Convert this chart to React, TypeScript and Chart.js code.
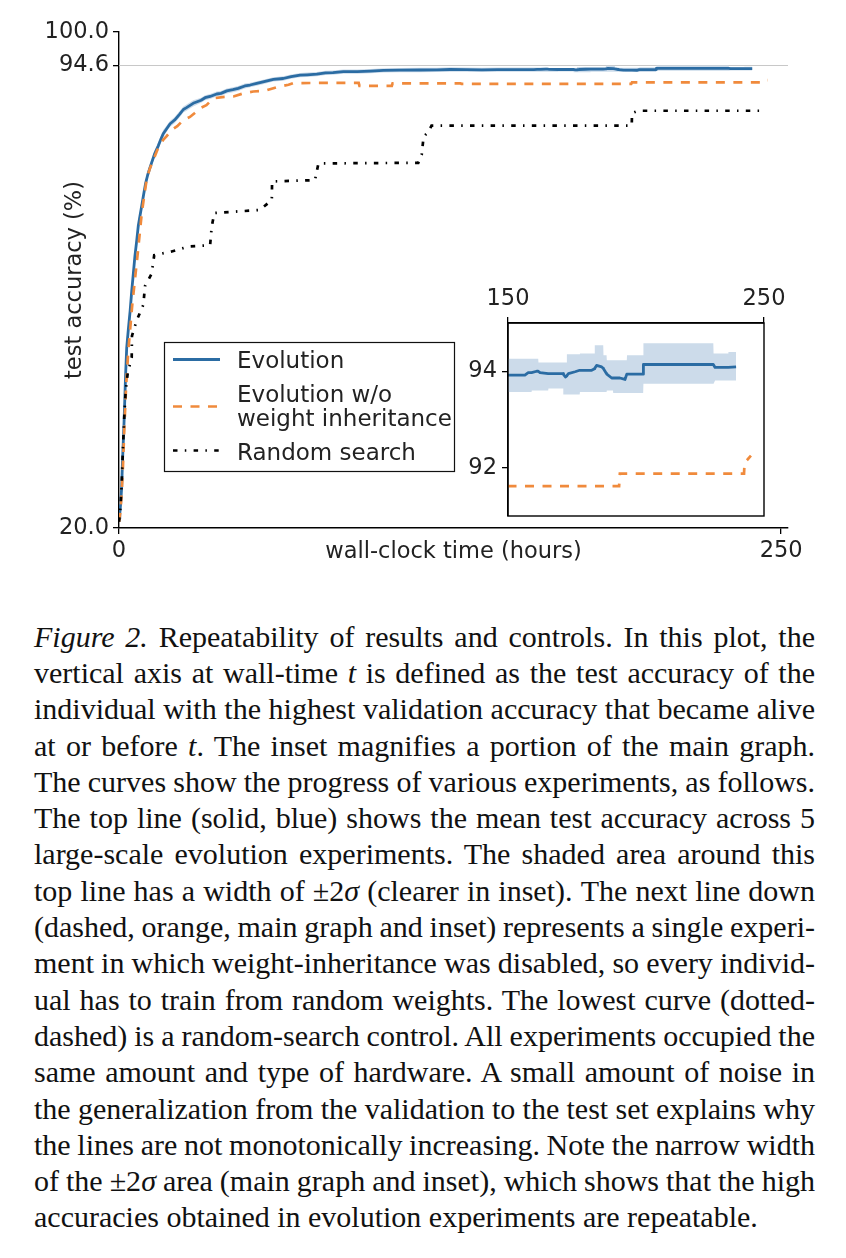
import React, { useEffect, useRef } from 'react';
import { Chart, registerables } from 'chart.js';

Chart.register(...registerables);

// ---------------- data ----------------
const evoHours = [
  0, 0.3, 0.6, 1.0, 1.3, 1.9, 2.5, 2.9, 3.5, 4.2, 4.8, 5.4, 6.0, 6.7, 7.3, 7.9, 8.6, 9.3, 10.0, 10.8,
  11.6, 12.3, 13.5, 14.8, 15.8, 16.7, 18.0, 19.3, 21.0, 23.0, 24.3, 25.5, 28.0, 31.0, 32.5, 34.4, 36.9,
  38.5, 40.7, 43.0, 45.0, 47.5, 49.5, 52.0, 54.0, 58.3, 62.0, 65.0, 68.4, 71.0, 74.7, 78.0, 80.8, 84.7,
  90.0, 95.0, 99.8, 106.0, 113.7, 120.0, 125.0, 131.0, 137.0, 143.0,
  150.0, 156.6, 157.9, 159.2, 159.3, 161.2, 161.8, 161.9, 162.5, 165.7, 165.8, 171.6, 171.7, 172.5,
  172.9, 173.0, 173.6, 176.2, 178.0, 178.1, 182.7, 183.8, 183.9, 184.6, 186.6, 187.2, 187.3, 188.5,
  188.6, 190.5, 191.0, 191.1, 193.7, 195.7, 196.4, 196.5, 201.6, 202.8, 202.9, 230.2, 230.3, 230.9,
  236.0, 236.1, 239.1,
];
const evoMean = [
  21.5, 22.3, 23.8, 26.5, 30.5, 37.0, 44.8, 49.0, 51.9, 55.0, 58.2, 61.0, 63.8, 66.4, 68.8, 70.3, 72.0, 73.8, 75.5, 76.9,
  78.0, 78.9, 80.4, 81.6, 82.7, 83.6, 84.4, 85.2, 85.8, 86.8, 87.5, 87.8, 88.5, 89.0, 89.4, 89.6, 90.0,
  90.1, 90.5, 90.7, 90.9, 91.3, 91.45, 91.7, 91.9, 92.35, 92.5, 92.8, 93.05, 93.1, 93.2, 93.4, 93.45, 93.6,
  93.62, 93.7, 93.82, 93.85, 93.87, 93.9, 93.95, 93.93, 93.9, 93.92,
  93.92, 93.92, 93.97, 93.97, 93.97, 94.0, 94.0, 94.0, 93.97, 93.95, 93.95, 93.95, 93.93, 93.88,
  93.9, 93.91, 93.95, 93.99, 94.02, 94.02, 94.02, 94.05, 94.06, 94.12, 94.09, 94.06, 94.05, 93.95,
  93.94, 93.86, 93.86, 93.86, 93.86, 93.83, 93.94, 93.94, 93.94, 93.94, 94.14, 94.14, 94.14, 94.08,
  94.08, 94.08, 94.09,
];
const evoLow = [
  21.0, 21.6, 23.0, 25.5, 29.3, 35.6, 43.3, 47.6, 50.6, 53.8, 57.0, 59.9, 62.8, 65.5, 68.0, 69.5, 71.3, 73.1, 74.8, 76.3,
  77.4, 78.3, 79.8, 81.0, 82.1, 83.0, 83.9, 84.7, 85.3, 86.3, 87.0, 87.3, 88.0, 88.6, 89.0, 89.2, 89.6,
  89.7, 90.1, 90.3, 90.5, 90.9, 91.1, 91.35, 91.55, 92.0, 92.15, 92.45, 92.7, 92.75, 92.85, 93.05, 93.1, 93.25,
  93.27, 93.35, 93.47, 93.5, 93.5, 93.55, 93.6, 93.58, 93.55, 93.57,
  93.57, 93.57, 93.57, 93.57, 93.6, 93.6, 93.6, 93.6, 93.6, 93.6, 93.64, 93.64, 93.52, 93.52,
  93.52, 93.52, 93.52, 93.52, 93.52, 93.57, 93.57, 93.57, 93.57, 93.57, 93.57, 93.57, 93.57, 93.57,
  93.6, 93.6, 93.6, 93.55, 93.55, 93.55, 93.55, 93.55, 93.55, 93.55, 93.74, 93.74, 93.74, 93.81,
  93.81, 93.81, 93.81,
];
const evoHigh = [
  22.0, 23.0, 24.6, 27.5, 31.7, 38.4, 46.3, 50.4, 53.2, 56.2, 59.4, 62.1, 64.8, 67.3, 69.6, 71.1, 72.7, 74.5, 76.2, 77.5,
  78.6, 79.5, 81.0, 82.2, 83.3, 84.2, 84.9, 85.7, 86.3, 87.3, 88.0, 88.3, 89.0, 89.4, 89.8, 90.0, 90.4,
  90.5, 90.9, 91.1, 91.3, 91.7, 91.8, 92.05, 92.25, 92.7, 92.85, 93.15, 93.4, 93.45, 93.55, 93.75, 93.8, 93.95,
  93.97, 94.05, 94.17, 94.2, 94.22, 94.25, 94.3, 94.28, 94.25, 94.26,
  94.26, 94.26, 94.26, 94.26, 94.26, 94.26, 94.26, 94.18, 94.18, 94.18, 94.18, 94.18, 94.18, 94.18,
  94.18, 94.35, 94.35, 94.35, 94.35, 94.37, 94.37, 94.37, 94.54, 94.54, 94.54, 94.54, 94.33, 94.33,
  94.23, 94.23, 94.23, 94.23, 94.23, 94.23, 94.23, 94.33, 94.33, 94.33, 94.58, 94.58, 94.37, 94.37,
  94.37, 94.4, 94.4,
];

const noInheritHours = [
  0, 0.5, 1.0, 1.5, 2.0, 2.7, 3.5, 4.3, 5.0, 6.0, 7.0, 8.6, 9.5, 10.4, 11.5, 13.0, 14.5, 16.7, 18.0, 19.9,
  22.0, 24.3, 26.8, 28.5, 30.6, 33.0, 35.6, 39.0, 43.2, 47.0, 50.7, 55.0, 59.6, 64.0, 65.7, 81.0, 90.5,
  90.8, 103.0, 103.3, 129.0, 129.3, 193.4, 193.7, 242.2, 242.4, 244.9,
];
const noInheritAcc = [
  21.0, 22.5, 25.5, 30.0, 36.0, 43.0, 48.5, 52.5, 56.0, 60.0, 64.0, 70.8, 73.5, 76.1, 77.8, 79.4, 81.0, 82.6, 83.2, 84.2,
  84.8, 85.8, 86.3, 86.9, 87.7, 88.2, 89.3, 89.5, 89.6, 90.1, 90.4, 90.5, 91.1, 91.5, 91.75, 91.8, 91.8,
  91.3, 91.3, 91.72, 91.72, 91.62, 91.62, 91.88, 91.88, 92.1, 92.25,
];

const randomHours = [
  0, 0.5, 1.0, 1.5, 2.0, 2.5, 3.3, 4.8, 4.9, 6.7, 9.2, 9.8, 12.3, 13.3, 19.9, 26.2, 34.4, 35.0, 36.0,
  53.2, 57.7, 57.8, 74.0, 75.3, 113.0, 114.3, 115.0, 116.8, 118.0, 193.6, 193.7, 196.0, 244.0,
];
const randomAcc = [
  21.0, 23.0, 27.0, 33.0, 38.0, 42.0, 45.0, 47.5, 51.0, 53.5, 56.0, 59.0, 61.0, 64.0, 64.6, 65.4, 65.6, 68.6, 70.8,
  71.3, 72.9, 75.9, 76.1, 78.8, 78.9, 80.2, 83.1, 83.9, 84.9, 84.9, 86.9, 87.3, 87.3,
];

const referenceAcc = 94.6;
const mainXRange = [0, 252.6];
const mainYRange = [20, 100];
const mainXTicks = [0, 250];
const mainYTicks = [20, 94.6, 100];
const insetXRange = [150, 250];
const insetYRange = [91, 95];
const insetXTicks = [150, 250];
const insetYTicks = [92, 94];

const seriesNames = ['Evolution', 'Evolution w/o weight inheritance', 'Random search'];
const legendLabels = [['Evolution'], ['Evolution w/o', 'weight inheritance'], ['Random search']];
const xTitle = 'wall-clock time (hours)';
const yTitle = 'test accuracy (%)';

const captionLines = [
  '*Figure 2.* Repeatability of results and controls. In this plot, the',
  'vertical axis at wall-time *t* is defined as the test accuracy of the',
  'individual with the highest validation accuracy that became alive',
  'at or before *t*. The inset magnifies a portion of the main graph.',
  'The curves show the progress of various experiments, as follows.',
  'The top line (solid, blue) shows the mean test accuracy across 5',
  'large-scale evolution experiments. The shaded area around this',
  'top line has a width of ±2*σ* (clearer in inset). The next line down',
  '(dashed, orange, main graph and inset) represents a single experi-',
  'ment in which weight-inheritance was disabled, so every individ-',
  'ual has to train from random weights. The lowest curve (dotted-',
  'dashed) is a random-search control. All experiments occupied the',
  'same amount and type of hardware. A small amount of noise in',
  'the generalization from the validation to the test set explains why',
  'the lines are not monotonically increasing. Note the narrow width',
  'of the ±2*σ* area (main graph and inset), which shows that the high',
  'accuracies obtained in evolution experiments are repeatable.',
];

// ---------------- styles ----------------
const FONT = '"DejaVu Sans", "Liberation Sans", sans-serif';
const INK = '#222222';
const BLUE = '#2b6ca3';
const BAND = '#ccdbea';
const ORANGE = '#f08a3c';
const GRAY = '#c8c8c8';
const tickFont = { family: FONT, size: 22.5 };

const pts = (xs: number[], ys: number[]) => xs.map((x, i) => ({ x, y: ys[i] }));

function buildDatasets(withReference: boolean) {
  const ds: any[] = [];
  if (withReference) {
    ds.push({
      label: 'reference',
      data: [{ x: mainXRange[0], y: referenceAcc }, { x: mainXRange[1], y: referenceAcc }],
      borderColor: GRAY, borderWidth: 1.2, order: 20,
    });
  }
  ds.push({
    label: 'band-high', data: pts(evoHours, evoHigh), borderColor: 'rgba(0,0,0,0)', borderWidth: 1,
    backgroundColor: BAND, fill: '+1', order: 15,
  });
  ds.push({
    label: 'band-low', data: pts(evoHours, evoLow), borderColor: 'rgba(0,0,0,0)', borderWidth: 1,
    fill: false, order: 16,
  });
  ds.push({
    label: seriesNames[0], data: pts(evoHours, evoMean), borderColor: BLUE, borderWidth: 2.8,
    borderJoinStyle: 'round', order: 3,
  });
  ds.push({
    label: seriesNames[1], data: pts(noInheritHours, noInheritAcc), borderColor: ORANGE, borderWidth: 2.7,
    borderDash: [9, 8.5], order: 2,
  });
  ds.push({
    label: seriesNames[2], data: pts(randomHours, randomAcc), borderColor: '#000000', borderWidth: 2.7,
    borderDash: [4.5, 7.3, 1.5, 7.3], order: 1,
  });
  return ds;
}

const legendPlugin = {
  id: 'boxLegend',
  afterDraw(chart: any) {
    const ctx = chart.ctx;
    ctx.save();
    ctx.fillStyle = '#ffffff';
    ctx.fillRect(164, 342, 291, 130);
    ctx.strokeStyle = '#111111';
    ctx.lineWidth = 1.2;
    ctx.strokeRect(164.5, 342.5, 290, 129);
    const sampleYs = [359.5, 406.5, 450.5];
    const baselines = [[368], [402, 425.5], [460]];
    seriesNames.forEach((name, i) => {
      const ds = chart.data.datasets.find((d: any) => d.label === name);
      ctx.save();
      ctx.strokeStyle = ds.borderColor;
      ctx.lineWidth = ds.borderWidth;
      ctx.setLineDash(ds.borderDash || []);
      ctx.lineCap = 'butt';
      ctx.beginPath();
      ctx.moveTo(173, sampleYs[i]);
      ctx.lineTo(220, sampleYs[i]);
      ctx.stroke();
      ctx.restore();
      ctx.fillStyle = INK;
      ctx.font = `23px ${FONT}`;
      ctx.textBaseline = 'alphabetic';
      ctx.textAlign = 'left';
      legendLabels[i].forEach((t, k) => ctx.fillText(t, 237, baselines[i][k]));
    });
    ctx.restore();
  },
};

const framePlugin = {
  id: 'insetFrame',
  afterDraw(chart: any) {
    const { ctx, chartArea: a } = chart;
    ctx.save();
    ctx.strokeStyle = '#000000';
    ctx.lineWidth = 1.4;
    ctx.strokeRect(a.left, a.top, a.right - a.left, a.bottom - a.top);
    ctx.restore();
  },
};

function axisCommon(tickLength: number, padding: number) {
  return {
    ticks: { font: tickFont, color: INK, padding, maxRotation: 0, autoSkip: false },
    grid: { drawOnChartArea: false, drawTicks: true, tickLength, color: '#000000', lineWidth: 1.3 },
    border: { display: true, color: '#000000', width: 1.4 },
  };
}

export default function App() {
  const mainRef = useRef<HTMLCanvasElement>(null);
  const insetRef = useRef<HTMLCanvasElement>(null);

  useEffect(() => {
    const main = new Chart(mainRef.current as HTMLCanvasElement, {
      type: 'line',
      data: { datasets: buildDatasets(true) },
      options: {
        responsive: false,
        animation: false,
        devicePixelRatio: 1,
        events: [],
        layout: { padding: { left: 19, right: 58, top: 32, bottom: 32 } },
        elements: { point: { radius: 0, hoverRadius: 0 }, line: { tension: 0, borderCapStyle: 'butt' } },
        plugins: { legend: { display: false }, tooltip: { enabled: false } },
        scales: {
          x: {
            type: 'linear', min: mainXRange[0], max: mainXRange[1],
            afterFit: (s: any) => { s.height = 40; },
            afterBuildTicks: (s: any) => { s.ticks = mainXTicks.map((value) => ({ value })); },
            ...axisCommon(6, 4),
            title: { display: true, text: xTitle, font: tickFont, color: INK, padding: { top: 0, bottom: 2 } },
          },
          y: {
            type: 'linear', min: mainYRange[0], max: mainYRange[1],
            afterFit: (s: any) => { s.width = 100; },
            afterBuildTicks: (s: any) => { s.ticks = mainYTicks.map((value) => ({ value })); },
            ...axisCommon(6, 4),
            ticks: {
              font: tickFont, color: INK, padding: 4, autoSkip: false,
              callback: (v: any) => Number(v).toFixed(1),
            },
            title: { display: true, text: yTitle, font: tickFont, color: INK, padding: { top: 43, bottom: 0 } },
          },
        },
      } as any,
      plugins: [legendPlugin],
    });

    const inset = new Chart(insetRef.current as HTMLCanvasElement, {
      type: 'line',
      data: { datasets: buildDatasets(false) },
      options: {
        responsive: false,
        animation: false,
        devicePixelRatio: 1,
        events: [],
        layout: { padding: { left: 28, right: 36, top: 8, bottom: 24 } },
        elements: { point: { radius: 0, hoverRadius: 0 }, line: { tension: 0, borderCapStyle: 'butt' } },
        plugins: { legend: { display: false }, tooltip: { enabled: false } },
        scales: {
          x: {
            type: 'linear', position: 'top', min: insetXRange[0], max: insetXRange[1],
            afterFit: (s: any) => { s.height = 35; },
            afterBuildTicks: (s: any) => { s.ticks = insetXTicks.map((value) => ({ value })); },
            ...axisCommon(6, 4),
          },
          y: {
            type: 'linear', min: insetYRange[0], max: insetYRange[1],
            afterFit: (s: any) => { s.width = 40; },
            afterBuildTicks: (s: any) => { s.ticks = insetYTicks.map((value) => ({ value })); },
            ...axisCommon(6, 5),
          },
        },
      } as any,
      plugins: [framePlugin],
    });

    return () => {
      main.destroy();
      inset.destroy();
    };
  }, []);

  return (
    <div style={{ position: 'relative', margin: -8, width: 846, height: 1250, overflow: 'hidden', background: '#ffffff' }}>
      <canvas ref={mainRef} width={846} height={600} style={{ position: 'absolute', left: 0, top: 0 }} />
      <canvas ref={insetRef} width={360} height={260} style={{ position: 'absolute', left: 440, top: 280 }} />
      <div
        style={{
          position: 'absolute', left: 34, top: 618.7, width: 781,
          fontFamily: '"Liberation Serif", "Times New Roman", serif', fontSize: 30, color: '#111111',
        }}
      >
        {captionLines.map((line, i) => {
          const last = i === captionLines.length - 1;
          return (
            <div
              key={i}
              style={{
                height: 36.3, lineHeight: '36.3px', whiteSpace: 'nowrap', textAlign: 'justify',
                textAlignLast: last ? 'left' : 'justify',
                wordSpacing: last ? 0 : '-1.6px',
              } as any}
            >
              {line.split('*').map((seg, j) => (j % 2 ? <i key={j}>{seg}</i> : <span key={j}>{seg}</span>))}
            </div>
          );
        })}
      </div>
    </div>
  );
}
